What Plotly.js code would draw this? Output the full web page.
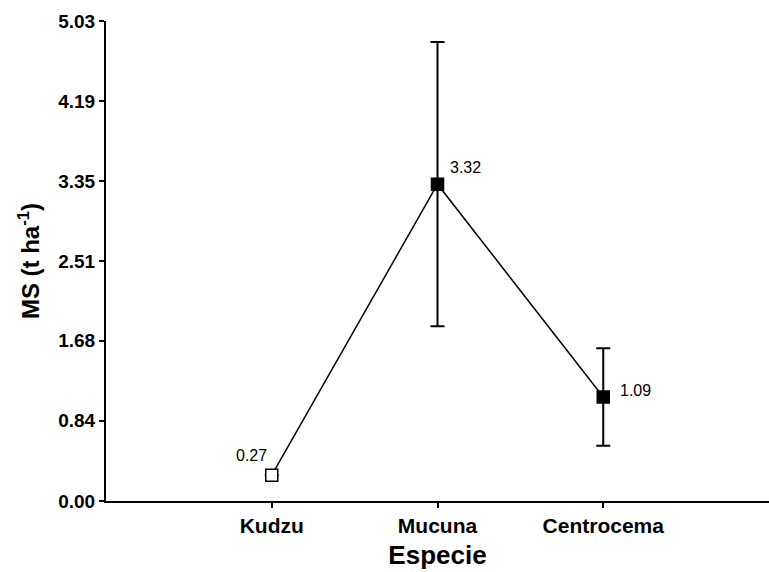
<!DOCTYPE html>
<html>
<head>
<meta charset="utf-8">
<script src="https://cdn.plot.ly/plotly-3.0.1.min.js"></script>
<style>html,body{margin:0;padding:0;background:#fff;}#chart{width:769px;height:572px;}</style>
</head>
<body>
<div id="chart"></div>
<script>
var categories = ["Kudzu", "Mucuna", "Centrocema"];
var msValues = [0.27, 3.32, 1.09];
var msErrors = [0, 1.49, 0.51];
var valueLabels = ["0.27", "3.32", "1.09"];
var yTickVals = [0.00, 0.84, 1.68, 2.51, 3.35, 4.19, 5.03];
var yTickText = ["0.00", "0.84", "1.68", "2.51", "3.35", "4.19", "5.03"];
var markerFills = ["#ffffff", "#000000", "#000000"];

var font = "Liberation Sans, Arial, sans-serif";

var trace = {
  x: categories,
  y: msValues,
  type: "scatter",
  mode: "lines+markers",
  line: {color: "#000", width: 1.5},
  marker: {symbol: "square", size: 12, color: markerFills, line: {color: "#000", width: 1.5}},
  error_y: {type: "data", array: msErrors, visible: true, color: "#000", thickness: 2, width: 7},
  hoverinfo: "none"
};

var shifts = [[-20, 20], [28, 17], [32, 6]];
var annotations = categories.map(function (c, i) {
  return {
    x: c, y: msValues[i], xref: "x", yref: "y",
    text: valueLabels[i], showarrow: false,
    xshift: shifts[i][0], yshift: shifts[i][1],
    font: {family: font, size: 16, color: "#000"}
  };
});

var layout = {
  width: 769, height: 572,
  margin: {l: 106, r: 0, t: 21, b: 71},
  paper_bgcolor: "#fff", plot_bgcolor: "#fff",
  showlegend: false,
  xaxis: {
    type: "category",
    range: [-1, 3],
    showgrid: false, zeroline: false,
    showline: true, linecolor: "#000", linewidth: 2,
    ticks: "outside", ticklen: 5, tickwidth: 2, tickcolor: "#000",
    tickfont: {family: font, size: 21, color: "#000", weight: "bold"},
    title: {text: "Especie", font: {family: font, size: 26, color: "#000", weight: "bold"}, standoff: 10}
  },
  yaxis: {
    range: [0, 5.03],
    tickvals: yTickVals, ticktext: yTickText,
    showgrid: false, zeroline: false,
    showline: true, linecolor: "#000", linewidth: 2,
    ticks: "outside", ticklen: 5, tickwidth: 2, tickcolor: "#000",
    tickfont: {family: font, size: 19, color: "#000", weight: "bold"},
    title: {text: "MS (t ha<sup>-1</sup>)", font: {family: font, size: 24, color: "#000", weight: "bold"}, standoff: 12}
  },
  annotations: annotations
};

Plotly.newPlot("chart", [trace], layout, {displayModeBar: false, staticPlot: true});
</script>
</body>
</html>
